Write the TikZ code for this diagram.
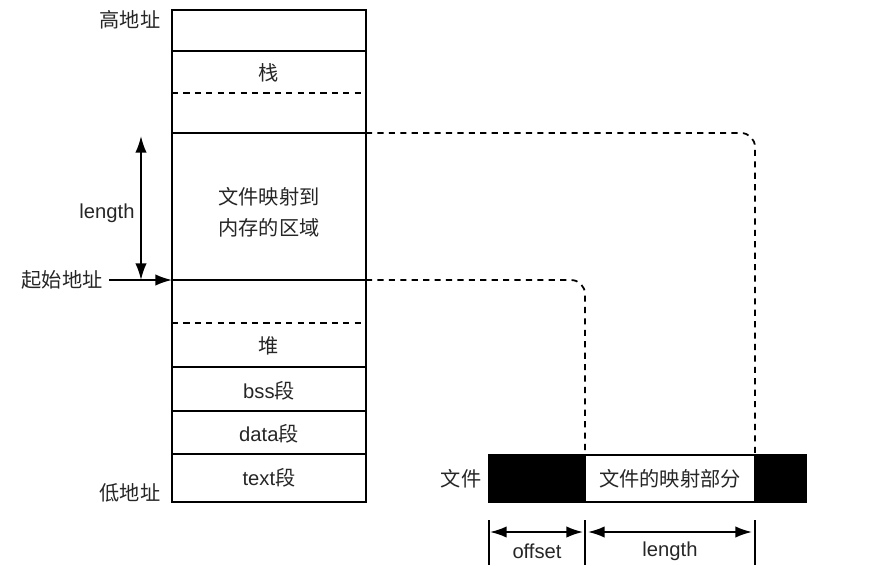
\documentclass[tikz,border=0pt]{standalone}
\usepackage{fontspec}
\setmainfont{Liberation Sans}
\newfontfamily\cjk{Noto Sans CJK SC}
\usetikzlibrary{positioning}
\usetikzlibrary{calc}
\usetikzlibrary{arrows.meta}

\newcommand{\zh}[1]{{\cjk #1}}

\tikzset{
  onehead/.style={-{Latex[length=9.5pt,width=6.5pt]}},
  twohead/.style={{Latex[length=9.5pt,width=6.5pt]}-{Latex[length=9.5pt,width=6.5pt]}},
  mapline/.style={dashed, dash pattern=on 3.5pt off 3pt, rounded corners=8pt},
  blackbox/.style={draw, fill=black, inner sep=0pt, outer sep=0pt, minimum height=0.94cm},
  partbox/.style={draw, fill=white, inner sep=0pt, outer sep=0pt, minimum height=0.94cm}
}

\begin{document}
\begin{tikzpicture}[x=0.02cm,y=-0.02cm,line width=1pt,
  every node/.append style={font=\fontsize{11.5}{17.6}\selectfont, text=black!85}]
\useasboundingbox (0,0) rectangle (889,565);

% memory layout
\draw (172,10) rectangle (366,502);
\draw (172,51)--(366,51);
\draw[dashed, dash pattern=on 3.5pt off 3pt] (172,93)--(366,93);
\draw (172,133)--(366,133);
\draw (172,280)--(366,280);
\draw[dashed, dash pattern=on 3.5pt off 3pt] (172,323)--(366,323);
\draw (172,367)--(366,367);
\draw (172,411)--(366,411);
\draw (172,454)--(366,454);

\node[](high) at (130,20){\zh{高地址}};
\node[](low) at (130,493){\zh{低地址}};
\node[](stack) at (269,73){\zh{栈}};
\node[align=center](mapped) at (269,212){\zh{文件映射到}\\\zh{内存的区域}};
\node[](heap) at (269,346){\zh{堆}};
\node[](bss) at (269,391){bss\zh{段}};
\node[](data) at (269,434){data\zh{段}};
\node[](text) at (269,478){text\zh{段}};

\node[](start) at (62,280){\zh{起始地址}};
\coordinate (mapBaseL) at (172,280);
\coordinate (mapBaseR) at (366,280);
\coordinate (mapTopR) at (366,133);
\coordinate (lenTop) at (141,136);
\coordinate (lenBot) at (141,280);
\node[](lenlbl) at (107,213){length};

% file
\node[partbox, minimum width=3.4cm](part) at (670,478.5){\zh{文件的映射部分}};
\node[blackbox, minimum width=1.92cm, left=0pt of part](off){};
\node[blackbox, minimum width=1.02cm, right=0pt of part](tail){};
\node[](file) at (461,479){\zh{文件}};

\draw[mapline] (mapTopR) -| (part.north east);
\draw[mapline] (mapBaseR) -| (part.north west);

% dimensions
\draw (off.south west) ++(0,18) -- ++(0,45);
\draw (off.south east) ++(0,18) -- ++(0,45);
\draw (part.south east) ++(0,18) -- ++(0,45);
\coordinate (o1) at ($(off.south west)+(1,30)$);
\coordinate (o2) at ($(off.south east)+(-2,30)$);
\coordinate (l1) at ($(part.south west)+(3,30)$);
\coordinate (l2) at ($(part.south east)+(-3,30)$);
\node[](offlbl) at ($(off.south)+(0,49)$){offset};
\node[](lenlbl2) at ($(part.south)+(0,49)$){length};

\path
(start) edge[onehead] (mapBaseL)
(lenTop) edge[twohead] (lenBot)
(o1) edge[twohead] (o2)
(l1) edge[twohead] (l2);
\end{tikzpicture}
\end{document}
